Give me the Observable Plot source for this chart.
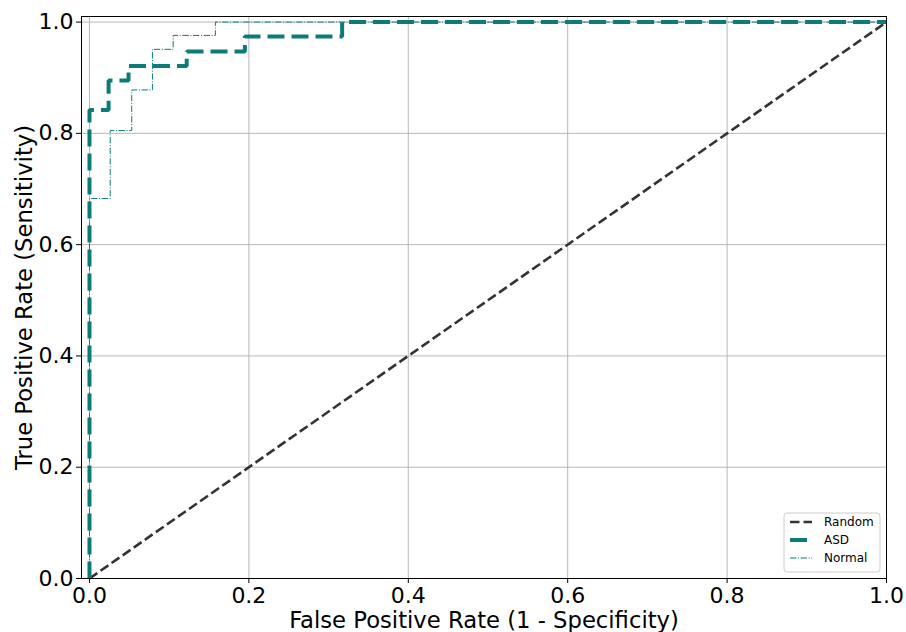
<!DOCTYPE html>
<html>
<head>
<meta charset="utf-8">
<script src="https://cdn.jsdelivr.net/npm/d3@7"></script>
<script src="https://cdn.jsdelivr.net/npm/@observablehq/plot@0.6"></script>
<style>
  html, body { margin: 0; padding: 0; background: #fff; }
  #chart svg { display: block; font-family: "DejaVu Sans", sans-serif; }
</style>
</head>
<body>
<div id="chart"></div>
<script>
// ROC data
const asdFpr = [0, 0, 0.024, 0.024, 0.049, 0.049, 0.122, 0.122, 0.195, 0.195, 0.317, 0.317, 1.0];
const asdTpr = [0, 0.842, 0.842, 0.895, 0.895, 0.921, 0.921, 0.947, 0.947, 0.974, 0.974, 1.0, 1.0];
const normalFpr = [0, 0, 0.026, 0.026, 0.053, 0.053, 0.079, 0.079, 0.105, 0.105, 0.158, 0.158, 1.0];
const normalTpr = [0, 0.683, 0.683, 0.805, 0.805, 0.878, 0.878, 0.951, 0.951, 0.976, 0.976, 1.0, 1.0];
const randomFpr = [0, 1];
const randomTpr = [0, 1];
const ticks = [0, 0.2, 0.4, 0.6, 0.8, 1.0];
const seriesNames = ["Random", "ASD", "Normal"];
const xLabel = "False Positive Rate (1 - Specificity)";
const yLabel = "True Positive Rate (Sensitivity)";

const teal = "#0d7c78";
const dark = "#333333";

const toRows = (xs, ys) => xs.map((x, i) => ({x, y: ys[i]}));
const asd = toRows(asdFpr, asdTpr);
const normal = toRows(normalFpr, normalTpr);
const random = toRows(randomFpr, randomTpr);

const chart = Plot.plot({
  width: 906,
  height: 632,
  marginLeft: 81,
  marginRight: 20,
  marginTop: 16,
  marginBottom: 54,
  style: {fontFamily: "DejaVu Sans, sans-serif", background: "#fff"},
  x: {domain: [-0.01, 1.0]},
  y: {domain: [0, 1.01]},
  marks: [
    Plot.gridX(ticks, {stroke: "#b0b0b0", strokeOpacity: 1, strokeWidth: 0.9}),
    Plot.gridY(ticks, {stroke: "#b0b0b0", strokeOpacity: 1, strokeWidth: 0.9}),
    Plot.line(random, {x: "x", y: "y", stroke: dark, strokeWidth: 2.6, strokeDasharray: "9.5,4", strokeLinecap: "butt"}),
    Plot.line(asd, {x: "x", y: "y", stroke: teal, strokeWidth: 4, strokeDasharray: "17,7", strokeLinecap: "butt", strokeLinejoin: "miter"}),
    Plot.line(normal, {x: "x", y: "y", stroke: teal, strokeWidth: 1, strokeDasharray: "6.4,1.6,1,1.6", strokeLinecap: "butt", strokeLinejoin: "miter"}),
    Plot.frame({stroke: "#000", strokeWidth: 1}),
    Plot.axisX(ticks, {tickFormat: d3.format(".1f"), tickSize: 5, tickPadding: 4, fontSize: 22, stroke: "#000", label: null}),
    Plot.axisY(ticks, {tickFormat: d3.format(".1f"), tickSize: 5, tickPadding: 3, fontSize: 22, stroke: "#000", label: null}),
    Plot.text([xLabel], {text: d => d, frameAnchor: "bottom", dy: 42, lineAnchor: "middle", textAnchor: "middle", fontSize: 22.7, fill: "#000"}),
    Plot.text([yLabel], {text: d => d, frameAnchor: "left", dx: -57, rotate: -90, lineAnchor: "middle", textAnchor: "middle", fontSize: 22.7, fill: "#000"})
  ]
});

document.getElementById("chart").appendChild(chart);

// Legend (lower right, inside the axes)
const svg = d3.select(chart);
const lg = svg.append("g").attr("font-family", "DejaVu Sans, sans-serif").attr("font-size", 12)
  .attr("text-anchor", "start");
lg.append("rect").attr("x", 784).attr("y", 513).attr("width", 96).attr("height", 59)
  .attr("rx", 3).attr("fill", "#fff").attr("fill-opacity", 0.9).attr("stroke", "#cccccc");
const styles = [
  {stroke: dark, width: 2.6, dash: "9.5,4"},
  {stroke: teal, width: 4, dash: "17,7"},
  {stroke: teal, width: 1, dash: "6.4,1.6,1,1.6"}
];
seriesNames.forEach((name, i) => {
  const y = 522 + i * 18;
  lg.append("line").attr("x1", 790).attr("x2", 812).attr("y1", y).attr("y2", y)
    .attr("stroke", styles[i].stroke).attr("stroke-width", styles[i].width)
    .attr("stroke-dasharray", styles[i].dash);
  lg.append("text").attr("x", 824).attr("y", y).attr("dy", "0.35em").attr("fill", "#000")
    .attr("text-anchor", "start").text(name);
});
</script>
</body>
</html>
